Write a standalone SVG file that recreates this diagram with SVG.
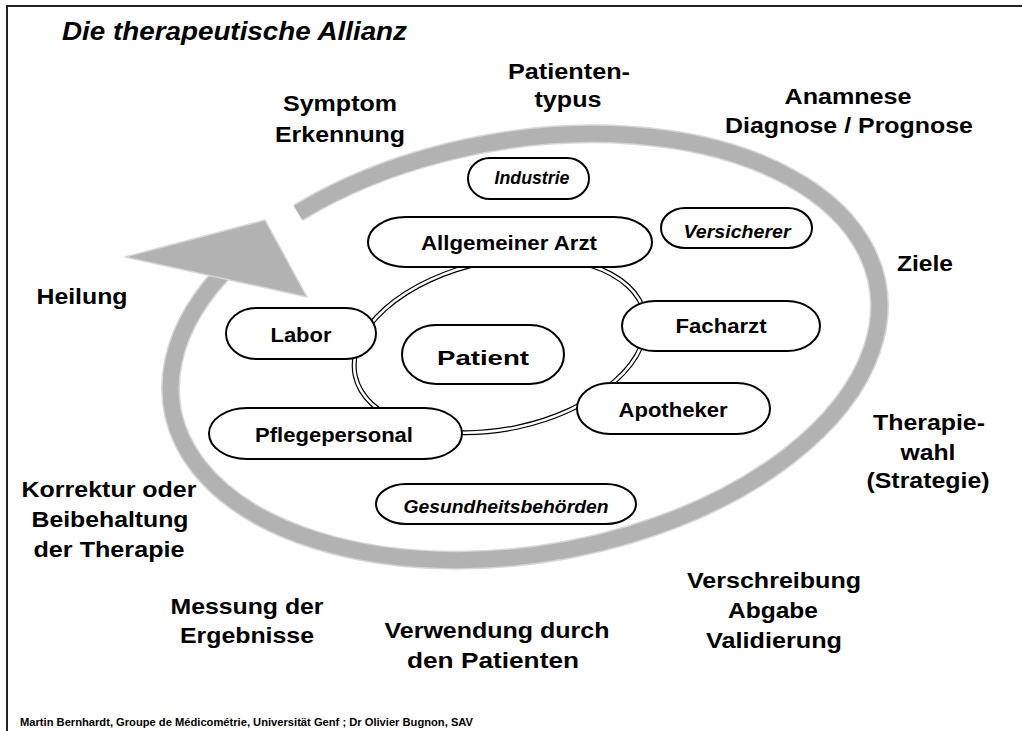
<svg xmlns="http://www.w3.org/2000/svg" width="1022" height="731" viewBox="0 0 1022 731">
<style>
text{font-family:"Liberation Sans",Arial,sans-serif;font-weight:bold;fill:#000}
.lbl{font-size:22px;text-anchor:middle}
.nd{font-size:20px;text-anchor:middle}
.it{font-size:18px;font-style:italic;text-anchor:middle}
.node rect{fill:#fff;stroke:#000;stroke-width:2}
</style>
<rect x="0" y="0" width="1022" height="731" fill="#fff"/>
<rect x="7" y="6" width="1030" height="740" fill="none" stroke="#222" stroke-width="2"/>
<g id="cycle">
<path d="M298,212.8 A358,207 -10 1 1 231.9,263.5" fill="none" stroke="#d6d6d6" stroke-width="19"/>
<path d="M298,212.8 A358,207 -10 1 1 231.9,263.5" fill="none" stroke="#b2b2b2" stroke-width="16"/>
<polygon points="125,257 265,220 307,297" fill="#b2b2b2" stroke="#d6d6d6" stroke-width="1.5" stroke-linejoin="round"/>
</g>
<g id="connectors">
<ellipse cx="500" cy="345" rx="148" ry="84" transform="rotate(-12 500 345)" fill="none" stroke="#000" stroke-width="5"/>
<ellipse cx="500" cy="345" rx="148" ry="84" transform="rotate(-12 500 345)" fill="none" stroke="#fff" stroke-width="2.6"/>
</g>
<g id="n-industrie" class="node"><rect x="468" y="158" width="121" height="41" rx="22" ry="20.5"/><text class="it" x="532" y="184" font-size="17" textLength="75" lengthAdjust="spacingAndGlyphs">Industrie</text></g>
<g id="n-allgemeiner-arzt" class="node"><rect x="368" y="217" width="284" height="50" rx="38" ry="25"/><text class="nd" x="509" y="250" textLength="176" lengthAdjust="spacingAndGlyphs">Allgemeiner Arzt</text></g>
<g id="n-versicherer" class="node"><rect x="661" y="208" width="151" height="40" rx="24" ry="20"/><text class="it" x="737" y="238" textLength="107" lengthAdjust="spacingAndGlyphs">Versicherer</text></g>
<g id="n-labor" class="node"><rect x="226" y="308" width="150" height="51" rx="30" ry="25.5"/><text class="nd" x="301" y="342" textLength="61" lengthAdjust="spacingAndGlyphs">Labor</text></g>
<g id="n-patient" class="node"><rect x="402" y="325" width="162" height="59" rx="34" ry="29.5"/><text class="nd" x="483" y="365" font-size="26" textLength="92" lengthAdjust="spacingAndGlyphs">Patient</text></g>
<g id="n-facharzt" class="node"><rect x="622" y="301" width="198" height="50" rx="33" ry="25"/><text class="nd" x="721" y="333" textLength="91" lengthAdjust="spacingAndGlyphs">Facharzt</text></g>
<g id="n-apotheker" class="node"><rect x="577" y="383" width="193" height="51" rx="33" ry="25.5"/><text class="nd" x="673" y="417" textLength="109" lengthAdjust="spacingAndGlyphs">Apotheker</text></g>
<g id="n-pflegepersonal" class="node"><rect x="209" y="408" width="253" height="51" rx="38" ry="25.5"/><text class="nd" x="334" y="442" textLength="158" lengthAdjust="spacingAndGlyphs">Pflegepersonal</text></g>
<g id="n-gesundheitsbehoerden" class="node"><rect x="376" y="484" width="260" height="40" rx="30" ry="20"/><text class="it" x="506" y="513" textLength="205" lengthAdjust="spacingAndGlyphs">Gesundheitsbehörden</text></g>
<g id="labels">
<text x="62" y="39.5" font-size="25" font-style="italic" textLength="345" lengthAdjust="spacingAndGlyphs">Die therapeutische Allianz</text>
<text class="lbl" x="340" y="111" textLength="114" lengthAdjust="spacingAndGlyphs">Symptom</text>
<text class="lbl" x="340" y="142" textLength="130" lengthAdjust="spacingAndGlyphs">Erkennung</text>
<text class="lbl" x="569" y="79" textLength="122" lengthAdjust="spacingAndGlyphs">Patienten-</text>
<text class="lbl" x="568" y="107" textLength="67" lengthAdjust="spacingAndGlyphs">typus</text>
<text class="lbl" x="848" y="104" textLength="127" lengthAdjust="spacingAndGlyphs">Anamnese</text>
<text class="lbl" x="849" y="133" textLength="248" lengthAdjust="spacingAndGlyphs">Diagnose / Prognose</text>
<text class="lbl" x="925" y="271" textLength="56" lengthAdjust="spacingAndGlyphs">Ziele</text>
<text class="lbl" x="82" y="304" textLength="91" lengthAdjust="spacingAndGlyphs">Heilung</text>
<text class="lbl" x="929" y="430" textLength="112" lengthAdjust="spacingAndGlyphs">Therapie-</text>
<text class="lbl" x="928" y="460" textLength="55" lengthAdjust="spacingAndGlyphs">wahl</text>
<text class="lbl" x="928" y="488" textLength="123" lengthAdjust="spacingAndGlyphs">(Strategie)</text>
<text class="lbl" x="109" y="497" textLength="175" lengthAdjust="spacingAndGlyphs">Korrektur oder</text>
<text class="lbl" x="110" y="527" textLength="157" lengthAdjust="spacingAndGlyphs">Beibehaltung</text>
<text class="lbl" x="109" y="557" textLength="151" lengthAdjust="spacingAndGlyphs">der Therapie</text>
<text class="lbl" x="774" y="588" textLength="174" lengthAdjust="spacingAndGlyphs">Verschreibung</text>
<text class="lbl" x="773" y="618" textLength="90" lengthAdjust="spacingAndGlyphs">Abgabe</text>
<text class="lbl" x="774" y="648" textLength="136" lengthAdjust="spacingAndGlyphs">Validierung</text>
<text class="lbl" x="247" y="614" textLength="153" lengthAdjust="spacingAndGlyphs">Messung der</text>
<text class="lbl" x="247" y="643" textLength="134" lengthAdjust="spacingAndGlyphs">Ergebnisse</text>
<text class="lbl" x="497" y="638" textLength="225" lengthAdjust="spacingAndGlyphs">Verwendung durch</text>
<text class="lbl" x="493" y="668" textLength="172" lengthAdjust="spacingAndGlyphs">den Patienten</text>
<text x="20" y="726" font-size="11" textLength="453" lengthAdjust="spacingAndGlyphs">Martin Bernhardt, Groupe de Médicométrie, Universität Genf ; Dr Olivier Bugnon, SAV</text>
</g>
</svg>
